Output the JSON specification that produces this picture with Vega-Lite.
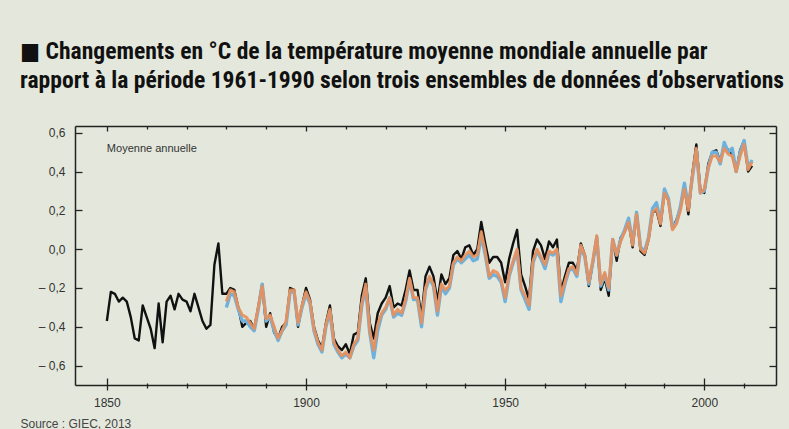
{
  "$schema": "https://vega.github.io/schema/vega-lite/v6.json",
  "width": 701,
  "height": 259,
  "autosize": {"type": "none"},
  "padding": {"left": 75, "top": 126, "right": 13, "bottom": 44},
  "background": "#e4e8dc",
  "title": {
    "text": ["■ Changements en °C de la température moyenne mondiale annuelle par", "rapport à la période 1961-1990 selon trois ensembles de données d’observations"],
    "anchor": "start",
    "frame": "group",
    "dx": -55,
    "offset": 33,
    "font": "Noto Sans Condensed, Liberation Sans Narrow, Roboto Condensed, DejaVu Sans Condensed, sans-serif",
    "fontWeight": "bold",
    "fontSize": 23.6,
    "lineHeight": 29,
    "color": "#111111"
  },
  "config": {
    "view": {"stroke": null},
    "axis": {"labelFont": "Liberation Sans", "labelFontSize": 12, "labelColor": "#333333", "domainColor": "#222222", "tickColor": "#222222", "grid": false, "domainWidth": 1.5, "tickWidth": 1.3}
  },
  "data": {"values": [
    {"yr":1850,"h":-0.37},{"yr":1851,"h":-0.22},{"yr":1852,"h":-0.23},{"yr":1853,"h":-0.27},{"yr":1854,"h":-0.25},{"yr":1855,"h":-0.27},{"yr":1856,"h":-0.35},{"yr":1857,"h":-0.46},{"yr":1858,"h":-0.47},{"yr":1859,"h":-0.29},
    {"yr":1860,"h":-0.35},{"yr":1861,"h":-0.41},{"yr":1862,"h":-0.51},{"yr":1863,"h":-0.28},{"yr":1864,"h":-0.48},{"yr":1865,"h":-0.27},{"yr":1866,"h":-0.24},{"yr":1867,"h":-0.31},{"yr":1868,"h":-0.23},{"yr":1869,"h":-0.26},
    {"yr":1870,"h":-0.27},{"yr":1871,"h":-0.32},{"yr":1872,"h":-0.23},{"yr":1873,"h":-0.30},{"yr":1874,"h":-0.37},{"yr":1875,"h":-0.41},{"yr":1876,"h":-0.39},{"yr":1877,"h":-0.08},{"yr":1878,"h":0.03},{"yr":1879,"h":-0.23},
    {"yr":1880,"h":-0.23,"o":-0.27,"b":-0.30},{"yr":1881,"h":-0.20,"o":-0.21,"b":-0.23},{"yr":1882,"h":-0.21,"o":-0.22,"b":-0.24},{"yr":1883,"h":-0.30,"o":-0.30,"b":-0.31},{"yr":1884,"h":-0.40,"o":-0.34,"b":-0.37},{"yr":1885,"h":-0.38,"o":-0.35,"b":-0.37},{"yr":1886,"h":-0.37,"o":-0.38,"b":-0.40},{"yr":1887,"h":-0.41,"o":-0.41,"b":-0.42},{"yr":1888,"h":-0.30,"o":-0.30,"b":-0.31},{"yr":1889,"h":-0.18,"o":-0.19,"b":-0.18},
    {"yr":1890,"h":-0.40,"o":-0.36,"b":-0.37},{"yr":1891,"h":-0.33,"o":-0.34,"b":-0.35},{"yr":1892,"h":-0.43,"o":-0.40,"b":-0.42},{"yr":1893,"h":-0.46,"o":-0.46,"b":-0.47},{"yr":1894,"h":-0.40,"o":-0.42,"b":-0.42},{"yr":1895,"h":-0.38,"o":-0.37,"b":-0.39},{"yr":1896,"h":-0.20,"o":-0.21,"b":-0.22},{"yr":1897,"h":-0.21,"o":-0.21,"b":-0.22},{"yr":1898,"h":-0.40,"o":-0.38,"b":-0.39},{"yr":1899,"h":-0.29,"o":-0.29,"b":-0.30},
    {"yr":1900,"h":-0.20,"o":-0.22,"b":-0.23},{"yr":1901,"h":-0.26,"o":-0.27,"b":-0.28},{"yr":1902,"h":-0.40,"o":-0.41,"b":-0.42},{"yr":1903,"h":-0.47,"o":-0.48,"b":-0.49},{"yr":1904,"h":-0.51,"o":-0.52,"b":-0.53},{"yr":1905,"h":-0.38,"o":-0.39,"b":-0.40},{"yr":1906,"h":-0.29,"o":-0.31,"b":-0.32},{"yr":1907,"h":-0.46,"o":-0.48,"b":-0.49},{"yr":1908,"h":-0.50,"o":-0.52,"b":-0.53},{"yr":1909,"h":-0.52,"o":-0.55,"b":-0.56},
    {"yr":1910,"h":-0.49,"o":-0.53,"b":-0.54},{"yr":1911,"h":-0.54,"o":-0.56,"b":-0.56},{"yr":1912,"h":-0.44,"o":-0.49,"b":-0.50},{"yr":1913,"h":-0.43,"o":-0.46,"b":-0.47},{"yr":1914,"h":-0.24,"o":-0.28,"b":-0.29},{"yr":1915,"h":-0.15,"o":-0.18,"b":-0.20},{"yr":1916,"h":-0.38,"o":-0.42,"b":-0.43},{"yr":1917,"h":-0.46,"o":-0.52,"b":-0.56},{"yr":1918,"h":-0.33,"o":-0.39,"b":-0.42},{"yr":1919,"h":-0.28,"o":-0.33,"b":-0.34},
    {"yr":1920,"h":-0.25,"o":-0.30,"b":-0.31},{"yr":1921,"h":-0.19,"o":-0.25,"b":-0.25},{"yr":1922,"h":-0.30,"o":-0.34,"b":-0.35},{"yr":1923,"h":-0.28,"o":-0.31,"b":-0.33},{"yr":1924,"h":-0.29,"o":-0.33,"b":-0.34},{"yr":1925,"h":-0.21,"o":-0.26,"b":-0.27},{"yr":1926,"h":-0.11,"o":-0.15,"b":-0.16},{"yr":1927,"h":-0.21,"o":-0.25,"b":-0.26},{"yr":1928,"h":-0.21,"o":-0.25,"b":-0.26},{"yr":1929,"h":-0.35,"o":-0.38,"b":-0.40},
    {"yr":1930,"h":-0.14,"o":-0.20,"b":-0.21},{"yr":1931,"h":-0.09,"o":-0.14,"b":-0.15},{"yr":1932,"h":-0.14,"o":-0.18,"b":-0.19},{"yr":1933,"h":-0.27,"o":-0.32,"b":-0.34},{"yr":1934,"h":-0.13,"o":-0.18,"b":-0.19},{"yr":1935,"h":-0.18,"o":-0.21,"b":-0.23},{"yr":1936,"h":-0.15,"o":-0.19,"b":-0.20},{"yr":1937,"h":-0.03,"o":-0.07,"b":-0.08},{"yr":1938,"h":-0.01,"o":-0.04,"b":-0.05},{"yr":1939,"h":-0.05,"o":-0.06,"b":-0.07},
    {"yr":1940,"h":0.01,"o":-0.03,"b":-0.05},{"yr":1941,"h":0.02,"o":-0.01,"b":-0.03},{"yr":1942,"h":-0.03,"o":-0.04,"b":-0.06},{"yr":1943,"h":0.00,"o":-0.03,"b":-0.05},{"yr":1944,"h":0.14,"o":0.09,"b":0.07},{"yr":1945,"h":0.03,"o":-0.01,"b":-0.03},{"yr":1946,"h":-0.07,"o":-0.14,"b":-0.15},{"yr":1947,"h":-0.04,"o":-0.11,"b":-0.13},{"yr":1948,"h":-0.04,"o":-0.12,"b":-0.14},{"yr":1949,"h":-0.07,"o":-0.16,"b":-0.17},
    {"yr":1950,"h":-0.17,"o":-0.25,"b":-0.27},{"yr":1951,"h":-0.05,"o":-0.13,"b":-0.14},{"yr":1952,"h":0.03,"o":-0.06,"b":-0.07},{"yr":1953,"h":0.10,"o":0.00,"b":-0.01},{"yr":1954,"h":-0.13,"o":-0.20,"b":-0.21},{"yr":1955,"h":-0.19,"o":-0.24,"b":-0.26},{"yr":1956,"h":-0.26,"o":-0.29,"b":-0.31},{"yr":1957,"h":-0.01,"o":-0.06,"b":-0.07},{"yr":1958,"h":0.05,"o":0.00,"b":-0.01},{"yr":1959,"h":0.02,"o":-0.04,"b":-0.05},
    {"yr":1960,"h":-0.05,"o":-0.08,"b":-0.10},{"yr":1961,"h":0.04,"o":-0.01,"b":-0.02},{"yr":1962,"h":0.01,"o":-0.02,"b":-0.03},{"yr":1963,"h":0.05,"o":0.00,"b":-0.01},{"yr":1964,"h":-0.22,"o":-0.24,"b":-0.27},{"yr":1965,"h":-0.14,"o":-0.17,"b":-0.18},{"yr":1966,"h":-0.07,"o":-0.10,"b":-0.11},{"yr":1967,"h":-0.07,"o":-0.09,"b":-0.10},{"yr":1968,"h":-0.11,"o":-0.13,"b":-0.14},{"yr":1969,"h":0.03,"o":0.02,"b":0.01},
    {"yr":1970,"h":-0.03,"o":-0.03,"b":-0.04},{"yr":1971,"h":-0.19,"o":-0.17,"b":-0.18},{"yr":1972,"h":-0.07,"o":-0.06,"b":-0.07},{"yr":1973,"h":0.06,"o":0.07,"b":0.06},{"yr":1974,"h":-0.21,"o":-0.18,"b":-0.19},{"yr":1975,"h":-0.15,"o":-0.12,"b":-0.13},{"yr":1976,"h":-0.24,"o":-0.20,"b":-0.21},{"yr":1977,"h":0.05,"o":0.05,"b":0.05},{"yr":1978,"h":-0.06,"o":-0.03,"b":-0.03},{"yr":1979,"h":0.06,"o":0.04,"b":0.05},
    {"yr":1980,"h":0.09,"o":0.09,"b":0.10},{"yr":1981,"h":0.14,"o":0.14,"b":0.16},{"yr":1982,"h":0.01,"o":0.02,"b":0.03},{"yr":1983,"h":0.19,"o":0.18,"b":0.19},{"yr":1984,"h":-0.01,"o":0.00,"b":0.01},{"yr":1985,"h":-0.03,"o":-0.02,"b":-0.01},{"yr":1986,"h":0.05,"o":0.05,"b":0.06},{"yr":1987,"h":0.19,"o":0.19,"b":0.21},{"yr":1988,"h":0.20,"o":0.21,"b":0.24},{"yr":1989,"h":0.12,"o":0.13,"b":0.14},
    {"yr":1990,"h":0.30,"o":0.29,"b":0.31},{"yr":1991,"h":0.25,"o":0.25,"b":0.26},{"yr":1992,"h":0.11,"o":0.10,"b":0.11},{"yr":1993,"h":0.15,"o":0.13,"b":0.14},{"yr":1994,"h":0.21,"o":0.20,"b":0.22},{"yr":1995,"h":0.33,"o":0.31,"b":0.34},{"yr":1996,"h":0.18,"o":0.20,"b":0.22},{"yr":1997,"h":0.39,"o":0.38,"b":0.37},{"yr":1998,"h":0.54,"o":0.52,"b":0.51},{"yr":1999,"h":0.31,"o":0.29,"b":0.29},
    {"yr":2000,"h":0.29,"o":0.31,"b":0.30},{"yr":2001,"h":0.44,"o":0.42,"b":0.42},{"yr":2002,"h":0.50,"o":0.48,"b":0.50},{"yr":2003,"h":0.51,"o":0.48,"b":0.50},{"yr":2004,"h":0.45,"o":0.45,"b":0.44},{"yr":2005,"h":0.54,"o":0.52,"b":0.55},{"yr":2006,"h":0.51,"o":0.49,"b":0.50},{"yr":2007,"h":0.49,"o":0.48,"b":0.52},{"yr":2008,"h":0.40,"o":0.40,"b":0.40},{"yr":2009,"h":0.51,"o":0.48,"b":0.50},
    {"yr":2010,"h":0.56,"o":0.54,"b":0.56},{"yr":2011,"h":0.40,"o":0.41,"b":0.42},{"yr":2012,"h":0.43,"o":0.45,"b":0.46}
  ]},
  "resolve": {"axis": {"x": "independent", "y": "independent"}},
  "layer": [
    {
      "mark": {"type": "line", "color": "#111111", "strokeWidth": 2.4, "strokeJoin": "round"},
      "encoding": {
        "x": {"field": "yr", "type": "quantitative", "scale": {"domain": [1842, 2018], "nice": false, "zero": false},
          "axis": {"orient": "bottom", "values": [1850,1860,1870,1880,1890,1900,1910,1920,1930,1940,1950,1960,1970,1980,1990,2000,2010],
            "labelExpr": "datum.value % 50 === 0 ? datum.value : ''", "format": "d",
            "tickSize": {"condition": {"test": "datum.value % 50 === 0", "value": 5}, "value": 3},
            "labelPadding": 7, "labelFlush": false,
            "title": "Source : GIEC, 2013", "titleAnchor": "start", "titleAlign": "left", "titleX": -55, "titleY": 33, "titleBaseline": "top",
            "titleFont": "Liberation Sans", "titleFontSize": 12, "titleFontWeight": "normal", "titleColor": "#444444"}},
        "y": {"field": "h", "type": "quantitative", "scale": {"domain": [-0.7, 0.635], "nice": false, "zero": false},
          "axis": {"orient": "left", "values": [-0.6,-0.4,-0.2,0,0.2,0.4,0.6], "tickSize": -7, "labelPadding": 17,
            "labelExpr": "datum.value < -0.001 ? '– ' + replace(format(-datum.value, '.1f'), '.', ',') : replace(format(abs(datum.value), '.1f'), '.', ',')",
            "title": null}}
      }
    },
    {
      "mark": {"type": "line", "color": "#6db2de", "strokeWidth": 3.4, "strokeJoin": "round"},
      "encoding": {
        "x": {"field": "yr", "type": "quantitative",
          "axis": {"orient": "bottom", "values": [1850,1860,1870,1880,1890,1900,1910,1920,1930,1940,1950,1960,1970,1980,1990,2000,2010],
            "labels": false, "domain": false, "title": null,
            "tickSize": {"condition": {"test": "datum.value % 50 === 0", "value": -7}, "value": -2}}},
        "y": {"field": "b", "type": "quantitative",
          "axis": {"orient": "right", "values": [-0.6,-0.4,-0.2,0,0.2,0.4,0.6], "tickSize": -7, "labels": false, "title": null}}
      }
    },
    {
      "mark": {"type": "line", "color": "#e88f5a", "strokeWidth": 3.0, "strokeJoin": "round", "opacity": 0.92},
      "encoding": {
        "x": {"field": "yr", "type": "quantitative",
          "axis": {"orient": "top", "values": [1850,1860,1870,1880,1890,1900,1910,1920,1930,1940,1950,1960,1970,1980,1990,2000,2010],
            "labels": false, "title": null, "tickSize": {"condition": {"test": "datum.value % 50 === 0", "value": -5}, "value": -3}}},
        "y": {"field": "o", "type": "quantitative", "axis": null}
      }
    },
    {
      "data": {"values": [{"label": "Moyenne annuelle", "yr": 1850, "v": 0.515}]},
      "mark": {"type": "text", "align": "left", "baseline": "middle", "font": "Liberation Sans", "fontSize": 11, "color": "#333333"},
      "encoding": {
        "x": {"field": "yr", "type": "quantitative", "axis": null},
        "y": {"field": "v", "type": "quantitative", "axis": null},
        "text": {"field": "label"}
      }
    }
  ]
}
